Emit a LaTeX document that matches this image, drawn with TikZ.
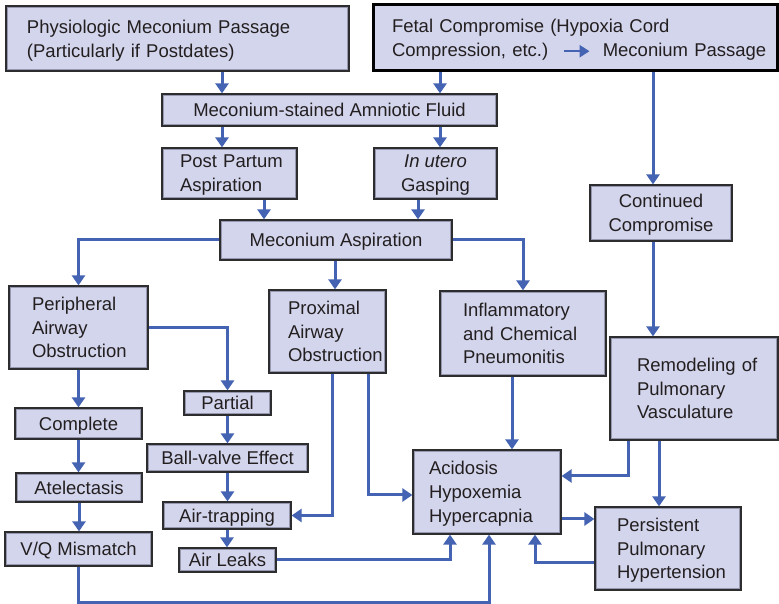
\documentclass[tikz,border=0pt]{standalone}
\usepackage{fontspec}
\setmainfont{Liberation Sans}
\usetikzlibrary{arrows.meta}
\definecolor{boxfill}{RGB}{211,213,236}
\definecolor{boxline}{RGB}{45,45,48}
\definecolor{boxinner}{RGB}{150,152,175}
\definecolor{flowblue}{RGB}{68,99,178}
\definecolor{txt}{RGB}{35,31,32}
\hyphenpenalty=10000

\begin{document}
\begin{tikzpicture}[x=1pt,y=1pt,
  box/.style={draw=boxline, fill=boxfill, line width=1.2pt, text=txt, inner ysep=0pt,
    font=\fontsize{18.5}{23.8}\selectfont,
    path picture={\draw[boxinner,line width=0.8pt]
      ([shift={(1.4pt,-1.4pt)}]path picture bounding box.north west) rectangle
      ([shift={(-1.4pt,1.4pt)}]path picture bounding box.south east);}},
  lbox/.style={box, align=left, text depth=#1},
  lbox/.default=47.6pt,
  cbox/.style={box, align=center, inner xsep=0pt, text depth=0pt},
  flow/.style={draw=flowblue, line width=3pt, -{Triangle[width=13pt,length=10pt]}}]
  \useasboundingbox (0,0) rectangle (779,604);

  % top row
  \node[lbox=23.8pt, inner xsep=21pt, text width=301pt, minimum height=65pt] (physio) at (177.5,565.5)
    {Physiologic Meconium Passage\\(Particularly if Postdates)};
  \node[lbox=23.8pt, draw=black, line width=3pt, path picture={}, inner xsep=19pt, text width=366pt,
    minimum height=66pt] (fetal) at (575,566)
    {Fetal Compromise (Hypoxia Cord\\\mbox{Compression, etc.)\hspace{14pt}\tikz[baseline=-0.55ex]\draw[flow,line width=2.5pt,-{Triangle[width=12pt,length=10pt]}] (0pt,0pt) -- (26pt,0pt);\hspace{12pt}Meconium Passage}};
  \node[cbox, minimum width=335pt, minimum height=32pt] (msaf) at (329.5,494) {Meconium-stained Amniotic Fluid};
  \node[lbox=23.8pt, inner xsep=18pt, text width=99pt, minimum height=51pt] (postp) at (229.5,430.5) {Post~Partum\\Aspiration};
  \node[cbox, minimum width=123pt, minimum height=51pt] (inutero) at (435.5,430.5) {\textit{In utero}\\Gasping};
  \node[cbox, minimum width=232pt, minimum height=40pt] (mecasp) at (336,364) {Meconium Aspiration};
  \node[cbox, minimum width=142pt, minimum height=56pt] (cont) at (661,391) {Continued\\Compromise};

  % middle row
  \node[lbox, inner xsep=23pt, text width=93pt, minimum height=83pt] (periph) at (78.5,276.5) {Peripheral\\Airway\\Obstruction};
  \node[lbox, inner xsep=19pt, text width=79pt, minimum height=83pt] (prox) at (327.5,272.5) {Proximal\\Airway\\Obstruction};
  \node[lbox, inner xsep=23pt, text width=120pt, minimum height=85pt] (infl) at (523,270.5) {Inflammatory\\and~Chemical\\Pneumonitis};
  \node[lbox, inner xsep=27pt, text width=114pt, minimum height=103pt] (remod) at (694,215.5) {Remodeling~of\\Pulmonary\\Vasculature};

  % lower boxes
  \node[cbox, minimum width=87pt, minimum height=24pt] (partial) at (227.5,201) {Partial};
  \node[cbox, minimum width=127pt, minimum height=31pt] (complete) at (78.5,180.5) {Complete};
  \node[cbox, minimum width=161pt, minimum height=28pt] (ballv) at (227.5,146) {Ball-valve Effect};
  \node[cbox, minimum width=126pt, minimum height=29pt] (atel) at (79,116.5) {Atelectasis};
  \node[cbox, minimum width=128pt, minimum height=27pt] (airtrap) at (227,88.5) {Air-trapping};
  \node[cbox, minimum width=147pt, minimum height=34pt] (vq) at (78.5,55) {V/Q Mismatch};
  \node[cbox, minimum width=97pt, minimum height=24pt] (airleak) at (227.5,44) {Air Leaks};
  \node[lbox, inner xsep=16pt, text width=116pt, minimum height=84pt] (acid) at (487,112) {Acidosis\\Hypoxemia\\Hypercapnia};
  \node[lbox, inner xsep=22pt, text width=102pt, minimum height=83pt] (pers) at (668,55.5) {Persistent\\Pulmonary\\Hypertension};

  % connectors
  \draw[flow] ([xshift=44.5pt]physio.south) -- ([xshift=-107.5pt]msaf.north);
  \draw[flow] ([xshift=-135pt]fetal.south) -- ([xshift=110.5pt]msaf.north);
  \draw[flow] ([xshift=78pt]fetal.south) -- ([xshift=-8pt]cont.north);
  \draw[flow] ([xshift=-107.5pt]msaf.south) -- ([xshift=-7.5pt]postp.north);
  \draw[flow] ([xshift=110.5pt]msaf.south) -- ([xshift=4.5pt]inutero.north);
  \draw[flow] ([xshift=34.5pt]postp.south) -- ([xshift=-72pt]mecasp.north);
  \draw[flow] ([xshift=-17.5pt]inutero.south) -- ([xshift=82pt]mecasp.north);
  \draw[flow] (mecasp.west) -| (periph.north);
  \draw[flow] ([xshift=-1pt]mecasp.south) -- ([xshift=7.5pt]prox.north);
  \draw[flow] (mecasp.east) -| (infl.north);
  \draw[flow] ([xshift=-8pt]cont.south) -- ([xshift=-41pt]remod.north);
  \draw[flow] (periph.east) -| (partial.north);
  \draw[flow] (periph.south) -- (complete.north);
  \draw[flow] (complete.south) -- (complete.south |- atel.north);
  \draw[flow] (atel.south) -- (atel.south |- vq.north);
  \draw[flow] (partial.south) -- (ballv.north);
  \draw[flow] (ballv.south) -- (ballv.south |- airtrap.north);
  \draw[flow] (airtrap.south) -- (airtrap.south |- airleak.north);
  \draw[flow] ([xshift=4.5pt]prox.south) |- (airtrap.east);
  \draw[flow] ([xshift=40.5pt]prox.south) |- ([yshift=-3pt]acid.west);
  \draw[flow] ([xshift=-11pt]infl.south) -- ([xshift=25pt]acid.north);
  \draw[flow] ([xshift=-66pt]remod.south) |- ([yshift=16pt]acid.east);
  \draw[flow] ([xshift=-35pt]remod.south) -- ([xshift=-9pt]pers.north);
  \draw[flow] ([yshift=-27pt]acid.east) -- ([yshift=-27pt]acid.east -| pers.west);
  \draw[flow] ([yshift=-14.5pt]pers.west) -| ([xshift=48pt]acid.south);
  \draw[flow] (airleak.east) -| ([xshift=-37pt]acid.south);
  \draw[flow] (vq.south) -- ++(0,-36) -| ([xshift=2pt]acid.south);
\end{tikzpicture}
\end{document}
